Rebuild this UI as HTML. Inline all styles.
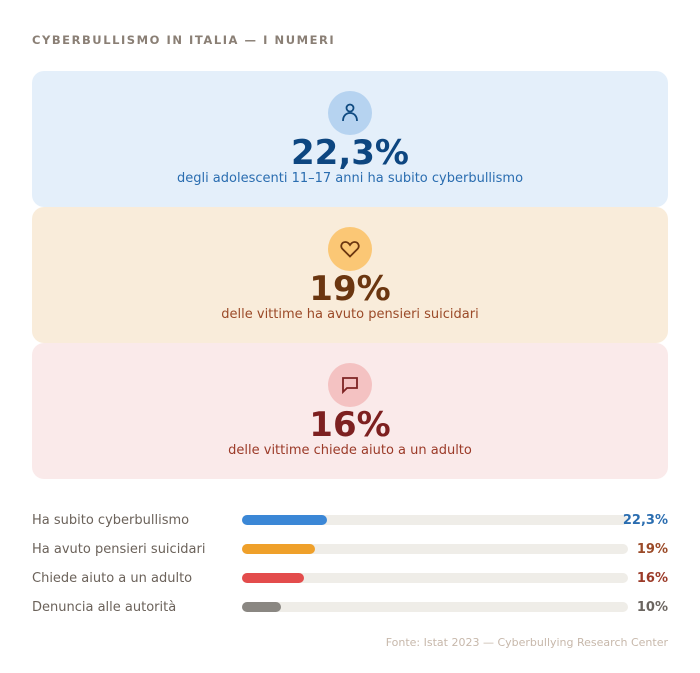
<!DOCTYPE html>
<html><head><meta charset="utf-8"><style>
*{margin:0;padding:0;box-sizing:border-box}
body{width:700px;height:673px;background:#fff;font-family:"DejaVu Sans","Liberation Sans",sans-serif;position:relative;overflow:hidden}
.t{position:absolute;left:32px;top:33px;font-size:11.5px;font-weight:bold;letter-spacing:1.55px;color:#8a7f75}
.card{position:absolute;left:32px;width:636px;height:136px;border-radius:12px}
.ic{position:absolute;left:296px;top:20px;width:44px;height:44px;border-radius:50%}
.ic svg{position:absolute;left:11px;top:11px}
.n{position:absolute;left:0;width:100%;text-align:center;top:60px;font-size:34px;font-weight:bold;line-height:44px}
.s{position:absolute;left:0;width:100%;text-align:center;top:100px;font-size:13px}
.row{position:absolute;left:32px;width:636px;height:18px}
.lb{position:absolute;left:0;top:2px;font-size:13px;color:#6b625a}
.tr{position:absolute;left:210px;top:4px;width:386px;height:10px;border-radius:5px;background:#efede8}
.f{position:absolute;left:0;top:0;height:10px;border-radius:5px}
.v{position:absolute;right:0;top:2px;font-size:13px;font-weight:bold}
.src{position:absolute;right:32px;top:636px;font-size:11px;color:#c7b8ab}
</style></head><body>
<div class="t">CYBERBULLISMO IN ITALIA — I NUMERI</div>

<div class="card" style="top:71px;background:#e4effa">
<div class="ic" style="background:#b6d3f0"><svg width="22" height="22" viewBox="0 0 22 22" fill="none" stroke="#0f4a80" stroke-width="1.8"><circle cx="11" cy="6" r="3.5"/><path d="M4 19c0-5 3-8 7-8s7 3 7 8"/></svg></div>
<div class="n" style="color:#0d4680">22,3%</div>
<div class="s" style="color:#2a6db0">degli adolescenti 11–17 anni ha subito cyberbullismo</div>
</div>

<div class="card" style="top:207px;background:#f9ecda">
<div class="ic" style="background:#fbc775"><svg width="22" height="22" viewBox="0 0 22 22" fill="none" stroke="#6b3610" stroke-width="1.8"><path d="M11 18.5 3.5 11C1 8.5 2.5 4 6.5 4c2 0 3.5 1.5 4.5 3 1-1.5 2.5-3 4.5-3 4 0 5.5 4.5 3 7z"/></svg></div>
<div class="n" style="color:#6b3610">19%</div>
<div class="s" style="color:#9b4a28">delle vittime ha avuto pensieri suicidari</div>
</div>

<div class="card" style="top:343px;background:#faeaea">
<div class="ic" style="background:#f4c2c2"><svg width="22" height="22" viewBox="0 0 22 22" fill="none" stroke="#7d2222" stroke-width="1.8"><path d="M4 4h14v10H8l-4 4z"/></svg></div>
<div class="n" style="color:#7d2020">16%</div>
<div class="s" style="color:#9b3a28">delle vittime chiede aiuto a un adulto</div>
</div>

<div class="row" style="top:511px"><div class="lb">Ha subito cyberbullismo</div><div class="tr"><div class="f" style="width:85px;background:#3b87d6"></div></div><div class="v" style="color:#2a6db0">22,3%</div></div>
<div class="row" style="top:540px"><div class="lb">Ha avuto pensieri suicidari</div><div class="tr"><div class="f" style="width:73px;background:#efa02a"></div></div><div class="v" style="color:#9b4a28">19%</div></div>
<div class="row" style="top:569px"><div class="lb">Chiede aiuto a un adulto</div><div class="tr"><div class="f" style="width:62px;background:#e34c4c"></div></div><div class="v" style="color:#9b3a28">16%</div></div>
<div class="row" style="top:598px"><div class="lb">Denuncia alle autorità</div><div class="tr"><div class="f" style="width:39px;background:#8a8782"></div></div><div class="v" style="color:#6b6560">10%</div></div>

<div class="src">Fonte: Istat 2023 — Cyberbullying Research Center</div>
</body></html>
